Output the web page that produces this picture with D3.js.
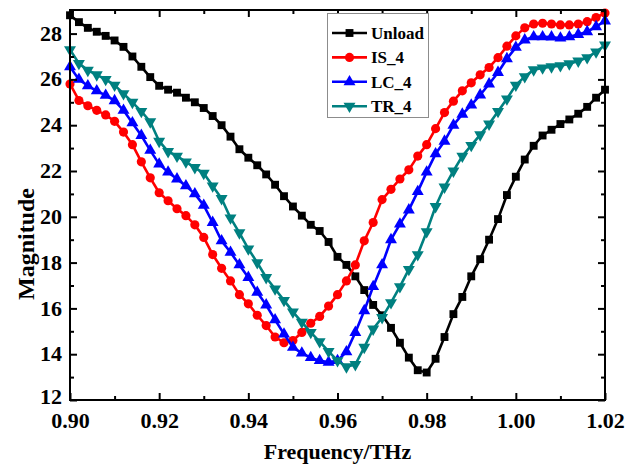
<!DOCTYPE html>
<html>
<head>
<meta charset="utf-8">
<script src="https://cdn.jsdelivr.net/npm/d3@7/dist/d3.min.js"></script>
<style>
  html, body { margin: 0; padding: 0; background: #fff; }
  svg { display: block; }
  text { font-family: "Liberation Serif", "Times New Roman", serif; font-weight: bold; fill: #000; }
</style>
</head>
<body>
<svg id="chart" width="634" height="464"></svg>
<script>
// ---- data ----
const freq = [
  0.900, 0.902, 0.904, 0.906, 0.908, 0.910, 0.912, 0.914, 0.916, 0.918,
  0.920, 0.922, 0.924, 0.926, 0.928, 0.930, 0.932, 0.934, 0.936, 0.938,
  0.940, 0.942, 0.944, 0.946, 0.948, 0.950, 0.952, 0.954, 0.956, 0.958,
  0.960, 0.962, 0.964, 0.966, 0.968, 0.970, 0.972, 0.974, 0.976, 0.978,
  0.980, 0.982, 0.984, 0.986, 0.988, 0.990, 0.992, 0.994, 0.996, 0.998,
  1.000, 1.002, 1.004, 1.006, 1.008, 1.010, 1.012, 1.014, 1.016, 1.018,
  1.020
];
const unload = [
  28.8, 28.5, 28.25, 28.08, 27.9, 27.7, 27.42, 27.0, 26.55, 26.1,
  25.72, 25.55, 25.42, 25.2, 25.0, 24.75, 24.4, 24.0, 23.5, 22.95,
  22.58, 22.25, 21.85, 21.4, 20.9, 20.45, 20.05, 19.65, 19.38, 18.9,
  18.25, 17.9, 17.4, 16.8, 16.15, 15.7, 15.15, 14.5, 13.85, 13.3,
  13.2, 13.8, 14.75, 15.75, 16.5, 17.4, 18.15, 19.0, 19.9, 20.95,
  21.75, 22.5, 23.1, 23.55, 23.8, 24.05, 24.25, 24.5, 24.8, 25.2,
  25.55
];
const is4 = [
  25.8, 25.08, 24.85, 24.65, 24.45, 24.17, 23.7, 23.15, 22.4, 21.7,
  21.05, 20.7, 20.35, 20.05, 19.65, 19.1, 18.35, 17.75, 17.2, 16.6,
  16.2, 15.7, 15.25, 14.75, 14.5, 14.6, 14.95, 15.35, 15.65, 16.1,
  16.6, 17.2, 17.9, 18.95, 19.75, 20.75, 21.2, 21.65, 22.05, 22.65,
  23.15, 23.85, 24.55, 25.05, 25.5, 25.85, 26.2, 26.52, 26.95, 27.45,
  27.9, 28.25, 28.42, 28.45, 28.42, 28.38, 28.38, 28.42, 28.52, 28.7,
  28.9
];
const lc4 = [
  26.55, 26.0, 25.72, 25.5, 25.3, 25.07, 24.65, 24.1, 23.55, 22.9,
  22.3, 21.95, 21.65, 21.35, 21.0, 20.5, 19.75, 18.95, 18.45, 17.9,
  17.35, 16.7, 16.15, 15.5, 14.88, 14.3, 14.05, 13.85, 13.72, 13.65,
  13.72, 14.1, 14.95, 15.9, 16.95, 17.9, 19.0, 19.68, 20.3, 21.1,
  21.95, 22.75, 23.3, 24.0, 24.48, 24.88, 25.32, 25.8, 26.3, 26.9,
  27.4, 27.72, 27.86, 27.86, 27.85, 27.8, 27.86, 27.96, 28.08, 28.3,
  28.55
];
const tr4 = [
  27.3, 26.7, 26.4, 26.2, 26.0, 25.75, 25.38, 25.0, 24.6, 24.15,
  23.3, 22.85, 22.65, 22.4, 22.15, 21.9, 21.35, 20.8, 19.95, 19.3,
  18.6, 18.0, 17.35, 16.85, 16.35, 15.85, 15.4, 14.95, 14.55, 14.12,
  13.72, 13.45, 13.55, 14.3, 15.1, 15.6, 16.25, 16.95, 17.7, 18.35,
  19.35, 20.45, 21.3, 22.0, 22.65, 23.12, 23.58, 24.05, 24.6, 25.15,
  25.75, 26.12, 26.42, 26.5, 26.55, 26.6, 26.68, 26.8, 26.95, 27.2,
  27.5
];
const seriesNames = ["Unload", "IS_4", "LC_4", "TR_4"];
const xTickLabels = ["0.90", "0.92", "0.94", "0.96", "0.98", "1.00", "1.02"];
const yTickLabels = ["12", "14", "16", "18", "20", "22", "24", "26", "28"];
const xTitle = "Frequency/THz";
const yTitle = "Magnitude";

// ---- layout ----
const L = 70, R = 605, T = 10, B = 400;
const svg = d3.select("#chart");
const x = d3.scaleLinear().domain([0.90, 1.02]).range([L, R]);
const y = d3.scaleLinear().domain([12, 29.03]).range([B, T]);

const series = [
  { name: seriesNames[0], values: unload, color: "#000000", sym: d3.symbolSquare, size: 62, rot: 0 },
  { name: seriesNames[1], values: is4,    color: "#ff0000", sym: d3.symbolCircle, size: 66, rot: 0 },
  { name: seriesNames[2], values: lc4,    color: "#0000ff", sym: d3.symbolTriangle, size: 62, rot: 0 },
  { name: seriesNames[3], values: tr4,    color: "#008080", sym: d3.symbolTriangle, size: 62, rot: 180 }
];

// ---- series ----
const line = d3.line().x((d, i) => x(freq[i])).y(d => y(d));
series.forEach(s => {
  const g = svg.append("g");
  g.append("path")
    .attr("d", line(s.values))
    .attr("fill", "none")
    .attr("stroke", s.color)
    .attr("stroke-width", 2.6)
    .attr("stroke-linejoin", "round");
  g.selectAll("path.m")
    .data(s.values)
    .enter().append("path")
    .attr("class", "m")
    .attr("d", d3.symbol().type(s.sym).size(s.size))
    .attr("transform", (d, i) => `translate(${x(freq[i])},${y(d)}) rotate(${s.rot})`)
    .attr("fill", s.color);
});

// ---- axes (ticks inward on all sides) ----
const xMajor = xTickLabels.map(Number);
const xMinor = d3.range(0, 6).map(i => (xMajor[i] + xMajor[i + 1]) / 2);
const yMajor = yTickLabels.map(Number);
const yMinor = yMajor.map(v => v + 1).filter(v => v <= 29);

const axB = d3.axisBottom(x).tickValues(xMajor).tickSize(-7).tickFormat((d, i) => xTickLabels[i]);
const axBm = d3.axisBottom(x).tickValues(xMinor).tickSize(-4).tickFormat("");
const axT = d3.axisTop(x).tickValues(xMajor).tickSize(-7).tickFormat("");
const axTm = d3.axisTop(x).tickValues(xMinor).tickSize(-4).tickFormat("");
const axL = d3.axisLeft(y).tickValues(yMajor).tickSize(-7).tickFormat((d, i) => yTickLabels[i]);
const axLm = d3.axisLeft(y).tickValues(yMinor).tickSize(-4).tickFormat("");
const axR = d3.axisRight(y).tickValues(yMajor).tickSize(-7).tickFormat("");
const axRm = d3.axisRight(y).tickValues(yMinor).tickSize(-4).tickFormat("");

function style(g) {
  g.select(".domain").remove();
  g.selectAll(".tick line").attr("stroke", "#000").attr("stroke-width", 2);
}
const gB = svg.append("g").attr("transform", `translate(0,${B})`).call(axB).call(style);
svg.append("g").attr("transform", `translate(0,${B})`).call(axBm).call(style);
svg.append("g").attr("transform", `translate(0,${T})`).call(axT).call(style);
svg.append("g").attr("transform", `translate(0,${T})`).call(axTm).call(style);
const gL = svg.append("g").attr("transform", `translate(${L},0)`).call(axL).call(style);
svg.append("g").attr("transform", `translate(${L},0)`).call(axLm).call(style);
svg.append("g").attr("transform", `translate(${R},0)`).call(axR).call(style);
svg.append("g").attr("transform", `translate(${R},0)`).call(axRm).call(style);

gB.selectAll(".tick text")
  .attr("y", 12).attr("dy", "0.71em")
  .style("font-family", '"Liberation Serif", "Times New Roman", serif')
  .style("font-weight", "bold").style("font-size", "22px").attr("fill", "#000");
gL.selectAll(".tick text")
  .attr("x", -8).attr("dy", "0.3em")
  .style("font-family", '"Liberation Serif", "Times New Roman", serif')
  .style("font-weight", "bold").style("font-size", "22px").attr("fill", "#000");
gL.selectAll(".tick text").filter((d) => d === 12).attr("dy", "0.15em");

// frame
svg.append("rect")
  .attr("x", L).attr("y", T).attr("width", R - L).attr("height", B - T)
  .attr("fill", "none").attr("stroke", "#000").attr("stroke-width", 2);

// titles
svg.append("text")
  .attr("x", (L + R) / 2).attr("y", 459)
  .attr("text-anchor", "middle")
  .style("font-size", "22px")
  .text(xTitle);
svg.append("text")
  .attr("transform", `translate(34,${(T + B) / 2 + 39}) rotate(-90)`)
  .attr("text-anchor", "middle")
  .style("font-size", "24px")
  .text(yTitle);

// ---- legend ----
const lg = svg.append("g");
lg.append("rect")
  .attr("x", 327.5).attr("y", 13.5).attr("width", 101).attr("height", 104)
  .attr("fill", "#fff").attr("stroke", "#8c8c8c").attr("stroke-width", 1);
series.forEach((s, i) => {
  const cy = 33 + i * 24.4;
  lg.append("line")
    .attr("x1", 332).attr("x2", 367).attr("y1", cy).attr("y2", cy)
    .attr("stroke", s.color).attr("stroke-width", 2.6);
  lg.append("path")
    .attr("d", d3.symbol().type(s.sym).size(s.size))
    .attr("transform", `translate(349.5,${cy}) rotate(${s.rot})`)
    .attr("fill", s.color);
  lg.append("text")
    .attr("x", 371).attr("y", cy).attr("dy", "0.35em")
    .style("font-size", "17px")
    .text(s.name);
});
</script>
</body>
</html>
